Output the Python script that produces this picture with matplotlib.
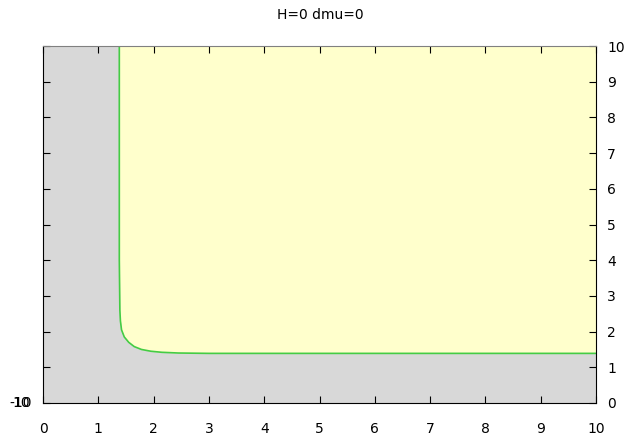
import matplotlib.pyplot as plt

# boundary curve
bx = [1.38, 1.38, 1.39, 1.40, 1.42, 1.47, 1.55, 1.65, 1.78, 1.95, 2.15, 2.45, 3.0, 5.0, 10.0]
by = [10.0, 4.0, 2.6, 2.3, 2.05, 1.85, 1.70, 1.58, 1.50, 1.45, 1.42, 1.40, 1.39, 1.39, 1.39]

fig = plt.figure(figsize=(6.41, 4.45), dpi=100)
ax = fig.add_axes([43 / 641, 42 / 445, 553 / 641, 357 / 445])
ax.set_facecolor('#d8d8d8')
ax.fill_between(bx, by, 10, color='#ffffcc', lw=0)
ax.plot(bx, by, color='#44cc44', lw=1.2)

ax.set_xlim(0, 10)
ax.set_ylim(0, 10)
ax.set_xticks(range(11))
ax.set_yticks(range(11))
ax.tick_params(direction='in', length=5, top=True, right=True, left=True,
               labelleft=False, labelright=True, labelsize=10, pad=8)
ax.tick_params(axis='x', pad=14)
for s in ['left', 'bottom', 'right']:
    ax.spines[s].set_color('black')
ax.spines['top'].set_color('#808080')

# overlapping labels at lower left, as in the original
fig.text(32 / 641, 1 - 403 / 445, '-10', ha='right', va='center', fontsize=10)
fig.text(30 / 641, 1 - 403 / 445, '10', ha='right', va='center', fontsize=10)

fig.text(0.5, 1 - 15 / 445, 'H=0 dmu=0', ha='center', va='center', fontsize=10)
fig.savefig('out.png', dpi=100)
